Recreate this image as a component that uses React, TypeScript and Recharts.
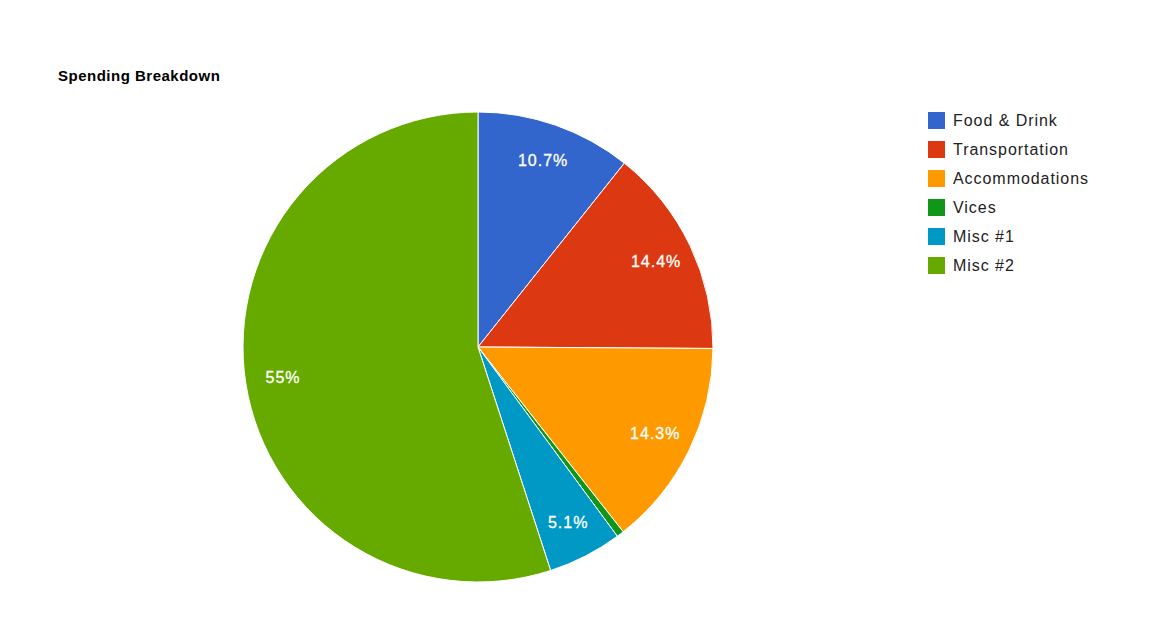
import React from 'react';
import { PieChart, Pie, Cell, Legend } from 'recharts';

// Spending categories and their shares (%)
const categories = ['Food & Drink', 'Transportation', 'Accommodations', 'Vices', 'Misc #1', 'Misc #2'];
const shares = [10.7, 14.4, 14.3, 0.5, 5.1, 55];
const COLORS = ['#3366cc', '#dc3912', '#ff9900', '#109618', '#0099c6', '#66aa00'];

const FONT = 'Arial, "Liberation Sans", sans-serif';

const data = categories.map((name, i) => ({ name, value: shares[i] }));

const RADIAN = Math.PI / 180;

const renderLabel = (props: any) => {
  const { cx, cy, midAngle, outerRadius, percent } = props;
  if (percent < 0.02) return null;
  const r = outerRadius * 0.84;
  const x = cx + r * Math.cos(-midAngle * RADIAN);
  const y = cy + r * Math.sin(-midAngle * RADIAN);
  const pct = Math.round(percent * 1000) / 10;
  return (
    <text
      x={x}
      y={y}
      fill="#ffffff"
      fontSize={16}
      fontFamily={FONT}
      letterSpacing={1}
      textAnchor="middle"
      dominantBaseline="central"
      stroke="#ffffff"
      strokeWidth={0.3}
    >
      {`${pct}%`}
    </text>
  );
};

const renderLegend = () => (
  <div style={{ fontFamily: FONT, fontSize: 16, color: '#222222', letterSpacing: 0.95 }}>
    {categories.map((name, i) => (
      <div key={name} style={{ display: 'flex', alignItems: 'center', height: 29 }}>
        <div style={{ width: 17, height: 17, backgroundColor: COLORS[i], marginRight: 8 }} />
        <span>{name}</span>
      </div>
    ))}
  </div>
);

const App: React.FC = () => {
  return (
    <div style={{ position: 'absolute', left: 0, top: 0, width: 1155, height: 641, background: '#ffffff' }}>
      <div
        style={{
          position: 'absolute',
          left: 58,
          top: 67,
          fontFamily: FONT,
          fontSize: 15,
          fontWeight: 'bold',
          letterSpacing: 0.5,
          color: '#000000',
          lineHeight: '17px',
          zIndex: 1,
        }}
      >
        Spending Breakdown
      </div>
      <PieChart width={1155} height={641} margin={{ top: 0, right: 0, bottom: 0, left: 0 }}>
        <Pie
          data={data}
          dataKey="value"
          nameKey="name"
          cx={478}
          cy={347}
          outerRadius={235}
          startAngle={90}
          endAngle={-270}
          stroke="#ffffff"
          strokeWidth={1}
          labelLine={false}
          label={renderLabel}
          isAnimationActive={false}
        >
          {data.map((entry, index) => (
            <Cell key={`cell-${index}`} fill={COLORS[index]} />
          ))}
        </Pie>
        <Legend
          content={renderLegend}
          layout="vertical"
          wrapperStyle={{ position: 'absolute', left: 928, top: 106, width: 220 }}
        />
      </PieChart>
    </div>
  );
};

export default App;
